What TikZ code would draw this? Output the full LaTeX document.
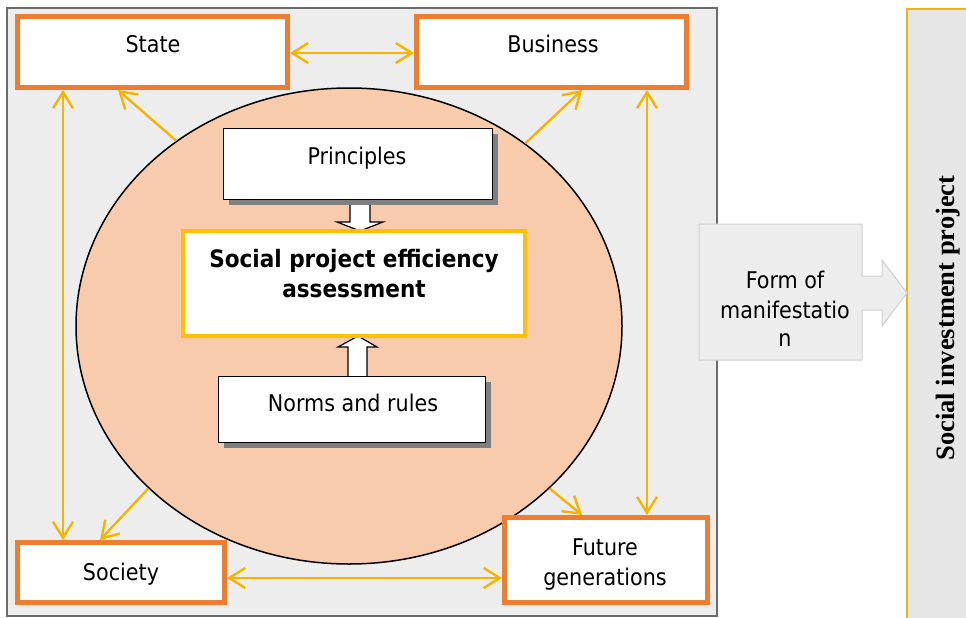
\documentclass[tikz,border=0pt]{standalone}
\usepackage{fontspec}
\setmainfont{DejaVu Sans Condensed}
\newfontfamily\panelfont{Liberation Serif}
\usetikzlibrary{arrows.meta,shapes.geometric,shadows}
\definecolor{bggray}{HTML}{EDEDED}
\definecolor{framegray}{HTML}{6B6B6B}
\definecolor{orangeb}{HTML}{ED7D31}
\definecolor{ygold}{HTML}{FFC000}
\definecolor{yarrow}{HTML}{F4B400}
\definecolor{peach}{HTML}{F8CBAD}
\definecolor{shadowgray}{HTML}{7F7F7F}
\definecolor{formgray}{HTML}{EDEDED}
\definecolor{formline}{HTML}{CFCFCF}
\definecolor{panelgray}{HTML}{E7E6E6}
\tikzset{
  actor/.style={draw=orangeb, line width=5pt, fill=white, rectangle, inner sep=0pt},
  innerbox/.style={draw=black, line width=1.3pt, fill=white, rectangle, inner sep=0pt,
    drop shadow={shadow xshift=5pt, shadow yshift=-5pt, opacity=1, fill=shadowgray}},
  corebox/.style={draw=ygold, line width=4pt, fill=white, rectangle, inner sep=0pt},
  lbl/.style={inner sep=0pt, anchor=base, font=\fontsize{23}{27}\selectfont},
  blbl/.style={inner sep=0pt, anchor=base, font=\fontsize{24}{28}\selectfont\bfseries},
  yarr/.style={draw=yarrow, line width=2.4pt, {Straight Barb[length=16pt,width=20pt]}-{Straight Barb[length=16pt,width=20pt]}},
  yarr1/.style={draw=yarrow, line width=2.4pt, -{Straight Barb[length=16pt,width=20pt]}},
  blockarrow/.style={draw=black, line width=1.2pt, fill=white},
}
\begin{document}
\begin{tikzpicture}[x=1pt,y=-1pt]
\useasboundingbox (0,0) rectangle (966,618);
% outer frame
\path[fill=bggray, draw=framegray, line width=2pt] (7,8) rectangle (717,616);
% right panel
\fill[panelgray] (907,9) rectangle (990,640);
\draw[yarrow, line width=2pt] (907,640) -- (907,9) -- (990,9);
\node[rotate=90, anchor=base, inner sep=0pt, font=\panelfont\fontsize{26.5}{30}\selectfont\bfseries] (panelt) at (954,318) {Social investment project};
% ellipse
\node[ellipse, draw=black, line width=1.5pt, fill=peach, minimum width=546pt, minimum height=476pt, inner sep=0pt] (ell) at (349,326) {};
% actor boxes
\node[actor, minimum width=270pt, minimum height=71pt] (state) at (152.5,52) {};
\node[actor, minimum width=270pt, minimum height=71pt] (business) at (551.5,52) {};
\node[actor, minimum width=207pt, minimum height=60pt] (society) at (121,572.5) {};
\node[actor, minimum width=203pt, minimum height=85pt] (future) at (606,560) {};
\node[lbl] (tstate) at (153,52.5) {State};
\node[lbl] (tbus) at (553,52.5) {Business};
\node[lbl] (tsoc) at (121,580.5) {Society};
\node[lbl] (tfut1) at (605,555.5) {Future};
\node[lbl] (tfut2) at (605,585.5) {generations};
% block arrows
\draw[blockarrow] (350,198) -- (370,198) -- (370,222) -- (383,222) -- (360,231) -- (337,222) -- (350,222) -- cycle;
\draw[blockarrow] (348,378) -- (348,347) -- (338,347) -- (358,336) -- (377,347) -- (367,347) -- (367,378) -- cycle;
% inner boxes
\node[innerbox, minimum width=269pt, minimum height=71pt] (princ) at (358,164) {};
\node[lbl] (tprinc) at (357,164.5) {Principles};
\node[corebox, minimum width=342pt, minimum height=105pt] (core) at (354,283.5) {};
\node[blbl] (tcore1) at (354,267) {Social project efficiency};
\node[blbl] (tcore2) at (354,297) {assessment};
\node[innerbox, minimum width=267pt, minimum height=66pt] (norms) at (352,409.5) {};
\node[lbl] (tnorms) at (353,411.5) {Norms and rules};
% connectors between actors
\coordinate (lv) at (63,0);
\coordinate (rv) at (647,0);
\coordinate (bh) at (0,578);
\coordinate (th) at (0,53);
\draw[yarr] (state.east |- th) -- (business.west |- th);
\draw[yarr] (state.south -| lv) -- (society.north -| lv);
\draw[yarr] (business.south -| rv) -- (future.north -| rv);
\draw[yarr] (society.east |- bh) -- (future.west |- bh);
% ellipse to actors
\coordinate (sa) at (118,0);
\coordinate (ba) at (582,0);
\coordinate (soa) at (100,0);
\coordinate (fa) at (582,0);
\draw[yarr1] (ell.133.4) -- (state.south -| sa);
\draw[yarr1] (ell.46.1) -- (business.south -| ba);
\draw[yarr1] (ell.219.8) -- (society.north -| soa);
\draw[yarr1] (ell.321.6) -- (future.north -| fa);
% form of manifestation
\path[fill=formgray, draw=formline, line width=1pt] (699,224) -- (862,224) -- (862,276) -- (882,276) -- (882,260) -- (907,293) -- (882,326) -- (882,310) -- (862,310) -- (862,360) -- (699,360) -- cycle;
\node[lbl] (tform1) at (785,288.5) {Form of};
\node[lbl] (tform2) at (785,318.5) {manifestatio};
\node[lbl] (tform3) at (785,346.5) {n};
\end{tikzpicture}
\end{document}
